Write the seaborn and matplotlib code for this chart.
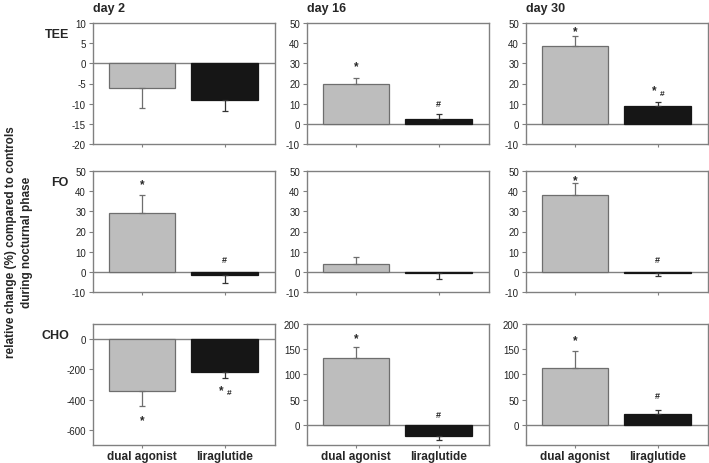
import numpy as np
import pandas as pd
import matplotlib
matplotlib.use("Agg")
import matplotlib.pyplot as plt
import seaborn as sns

# --- data (relative change % vs controls, nocturnal phase) ---
days = ["day 2", "day 16", "day 30"]
measures = ["TEE", "FO", "CHO"]
groups = ["dual agonist", "liraglutide"]

# per measure: [day][group]
tee_vals = [[-6, -9], [20, 2.5], [38.5, 9]]
tee_errs = [[5, 2.7], [2.5, 2.5], [5, 2]]
tee_marks = [["", ""], ["*", "#"], ["*", "*#"]]
tee_mark_y = [[0, 0], [30, 10], [47.5, 18]]

fo_vals = [[29, -1.5], [4, -0.5], [38, -0.5]]
fo_errs = [[9, 4], [3.5, 3], [6, 1.5]]
fo_marks = [["*", "#"], ["", ""], ["*", "#"]]
fo_mark_y = [[45, 6], [0, 0], [47, 6]]

cho_vals = [[-345, -220], [133, -23], [112, 22]]
cho_errs = [[95, 35], [22, 7], [35, 8]]
cho_marks = [["*", "*#"], ["*", "#"], ["*", "#"]]
cho_mark_y = [[-516, -319], [177, 20], [174, 58]]

ylims = {
    "TEE": [(-20, 10), (-10, 50), (-10, 50)],
    "FO": [(-10, 50), (-10, 50), (-10, 50)],
    "CHO": [(-700, 100), (-40, 200), (-40, 200)],
}
yticks = {
    "TEE": [np.arange(-20, 11, 5), np.arange(-10, 51, 10), np.arange(-10, 51, 10)],
    "FO": [np.arange(-10, 51, 10)] * 3,
    "CHO": [np.arange(-600, 1, 200), np.arange(0, 201, 50), np.arange(0, 201, 50)],
}

rows = []
for m, vals, errs, marks, mys in [("TEE", tee_vals, tee_errs, tee_marks, tee_mark_y),
                                  ("FO", fo_vals, fo_errs, fo_marks, fo_mark_y),
                                  ("CHO", cho_vals, cho_errs, cho_marks, cho_mark_y)]:
    for d, day in enumerate(days):
        for g, grp in enumerate(groups):
            rows.append(dict(measure=m, day=day, group=grp, value=vals[d][g],
                             err=errs[d][g], mark=marks[d][g], mark_y=mys[d][g]))
df = pd.DataFrame(rows)

sns.set_theme(style="white")
plt.rcParams["font.family"] = ["Liberation Sans", "DejaVu Sans"]

palette = {"dual agonist": "#bdbdbd", "liraglutide": "#161616"}
edges = {"dual agonist": "#6e6e6e", "liraglutide": "#161616"}
errcol = {"dual agonist": "#6e6e6e", "liraglutide": "#333333"}

W, H = 709, 464
fig = plt.figure(figsize=(W / 100, H / 100), dpi=100)

col_left = [93, 307, 526]
col_w = 182
row_top = [24, 172, 325]
row_h = 121

for r, m in enumerate(measures):
    for c, day in enumerate(days):
        ax = fig.add_axes([col_left[c] / W, 1 - (row_top[r] + row_h) / H,
                           col_w / W, row_h / H])
        sub = df[(df.measure == m) & (df.day == day)]
        sns.barplot(data=sub, x="group", y="value", hue="group", order=groups,
                    palette=palette, errorbar=None, width=0.8, ax=ax,
                    legend=False, zorder=3)
        for patch, grp in zip(ax.patches, groups):
            patch.set_edgecolor(edges[grp])
            patch.set_linewidth(0.9)
        ax.axhline(0, color="#808080", lw=1.0, zorder=2)
        for i, grp in enumerate(groups):
            row = sub[sub.group == grp].iloc[0]
            v, e = row.value, row.err
            lower = [0] if v >= 0 else [e]
            upper = [e] if v >= 0 else [0]
            ax.errorbar(i, v, yerr=[lower, upper], fmt="none",
                        ecolor=errcol[grp], elinewidth=0.9, capsize=2,
                        capthick=0.9, zorder=4)
            if row.mark == "*":
                ax.annotate("*", (i, row.mark_y), xytext=(0, -2),
                            textcoords="offset points", ha="center",
                            va="center", fontsize=8.5, fontweight="bold")
            elif row.mark == "#":
                ax.text(i, row.mark_y, "#", ha="center", va="center",
                        fontsize=6.5, fontweight="bold")
            elif row.mark == "*#":
                ax.annotate("*", (i, row.mark_y), xytext=(-2, -2),
                            textcoords="offset points", ha="center",
                            va="center", fontsize=8.5, fontweight="bold")
                ax.annotate("#", (i, row.mark_y), xytext=(3, -4),
                            textcoords="offset points", ha="center",
                            va="center", fontsize=6, fontweight="bold")
        ax.set_xlim(-0.59, 1.61)
        ax.set_ylim(*ylims[m][c])
        ax.set_yticks(yticks[m][c])
        ax.set_xlabel("")
        ax.set_ylabel("")
        for s in ax.spines.values():
            s.set_color("#808080")
            s.set_linewidth(1.0)
        ax.tick_params(axis="y", direction="out", length=3, width=0.8,
                       color="#808080", labelsize=7, pad=2, left=True)
        ax.tick_params(axis="x", direction="out", length=2.5, width=0.8,
                       color="#808080", bottom=True, pad=1)
        ax.set_yticklabels([f"{int(t)}" for t in yticks[m][c]], color="#222222")
        ax.set_xticks(range(2))
        if r == 2:
            ax.set_xticklabels(groups, fontsize=8.5, fontweight="bold")
        else:
            ax.set_xticklabels([])
        if r == 0:
            fig.text(col_left[c] / W, 1 - 9 / H, day, fontsize=9,
                     fontweight="bold", ha="left", va="center")
    row_label_y = [35, 183, 336][r]
    fig.text(69 / W, 1 - row_label_y / H, m, fontsize=9, fontweight="bold",
             ha="right", va="center")

fig.text(19 / W, 1 - 242 / H,
         "relative change (%) compared to controls\nduring nocturnal phase",
         rotation=90, ha="center", va="center", fontsize=8.5,
         fontweight="bold", linespacing=1.5, multialignment="center")

fig.savefig("out.png", dpi=100)
